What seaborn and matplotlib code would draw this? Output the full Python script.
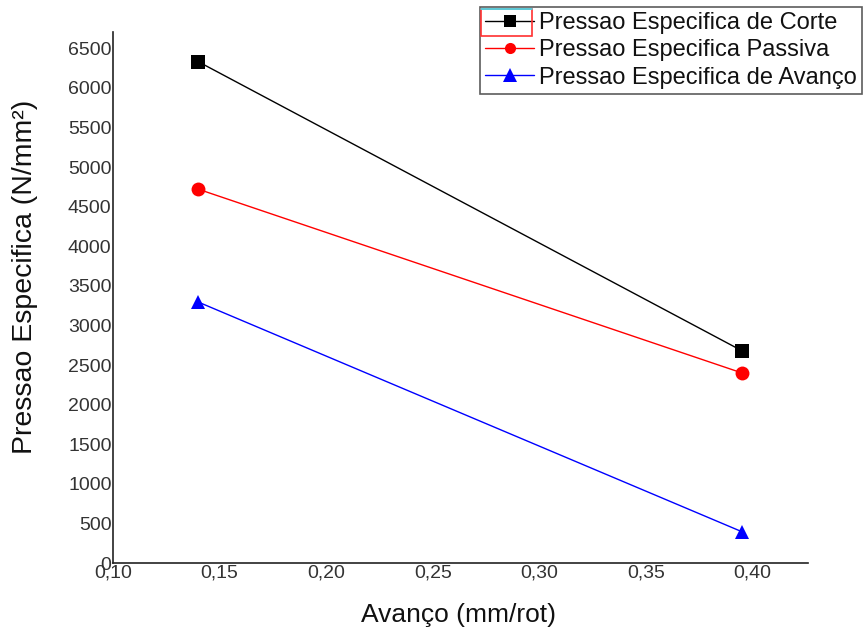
import matplotlib
matplotlib.use("Agg")
import matplotlib.pyplot as plt
import seaborn as sns
import pandas as pd
from matplotlib.ticker import FuncFormatter, MultipleLocator
from matplotlib.lines import Line2D
from matplotlib.patches import Rectangle

# Data
avanco = [0.14, 0.395]
corte = [6330, 2680]
passiva = [4720, 2400]
avanco_p = [3295, 395]
series_names = ["Pressao Especifica de Corte",
                "Pressao Especifica Passiva",
                "Pressao Especifica de Avanço"]

df = pd.DataFrame({
    "x": avanco * 3,
    "y": corte + passiva + avanco_p,
    "serie": [series_names[0]] * 2 + [series_names[1]] * 2 + [series_names[2]] * 2,
})

sns.set_theme(style="white")
plt.rcParams["font.family"] = ["Liberation Sans", "DejaVu Sans"]

fig = plt.figure(figsize=(8.64, 6.28), dpi=100)
ax = fig.add_axes([113 / 864, 1 - 563 / 628, (808 - 113) / 864, (563 - 32) / 628])

palette = {series_names[0]: "#000000", series_names[1]: "#ff0000", series_names[2]: "#0000ff"}
markers = {series_names[0]: "s", series_names[1]: "o", series_names[2]: "^"}

sns.lineplot(data=df, x="x", y="y", hue="serie", style="serie", palette=palette,
             markers=markers, dashes=False, markersize=10, linewidth=1,
             markeredgewidth=0, ax=ax, legend=False)

ax.set_xlim(0.10, 0.426)
ax.set_ylim(0, 6705)
ax.xaxis.set_major_locator(MultipleLocator(0.05))
ax.yaxis.set_major_locator(MultipleLocator(500))
ax.xaxis.set_major_formatter(FuncFormatter(lambda v, p: f"{v:.2f}".replace(".", ",")))
ax.yaxis.set_major_formatter(FuncFormatter(lambda v, p: f"{int(round(v))}"))
ax.tick_params(axis="both", length=0, labelsize=14, labelcolor="#333333", pad=1)
for s in ["top", "right"]:
    ax.spines[s].set_visible(False)
for s in ["left", "bottom"]:
    ax.spines[s].set_color("#222222")
    ax.spines[s].set_linewidth(1.2)

ax.set_xlabel("Avanço (mm/rot)", fontsize=19, color="#111111")
ax.set_ylabel("Pressao Especifica (N/mm²)", fontsize=20.5, color="#111111")
ax.xaxis.set_label_coords(0.497, -0.075)
ax.yaxis.set_label_coords(-0.108, 0.538)

handles = [Line2D([], [], color=palette[n], marker=markers[n],
                  markersize=8 if markers[n] != "^" else 10,
                  linewidth=1, markeredgewidth=0) for n in series_names]
leg = fig.legend(handles, series_names, loc="upper right",
                 bbox_to_anchor=(862 / 864, 1 - 7 / 628), fontsize=17,
                 frameon=True, fancybox=False, edgecolor="#333333",
                 handlelength=2.1, handletextpad=0.2, borderpad=0.22,
                 labelspacing=0.22, borderaxespad=0)
leg.get_frame().set_linewidth(1.2)
leg.set_zorder(1)
for t in leg.get_texts():
    t.set_color("#111111")

# selection artefact around the first legend entry
rect = Rectangle((481 / 864, 1 - 36 / 628), 51 / 864, 27 / 628,
                 transform=fig.transFigure, fill=False,
                 edgecolor="#ff3030", linewidth=1.2, zorder=10)
fig.add_artist(rect)
fig.add_artist(Line2D([481 / 864, 532 / 864], [1 - 9 / 628, 1 - 9 / 628],
                      transform=fig.transFigure, color="#40e0f0",
                      linewidth=1.2, zorder=11))

fig.savefig("out.png", dpi=100)
